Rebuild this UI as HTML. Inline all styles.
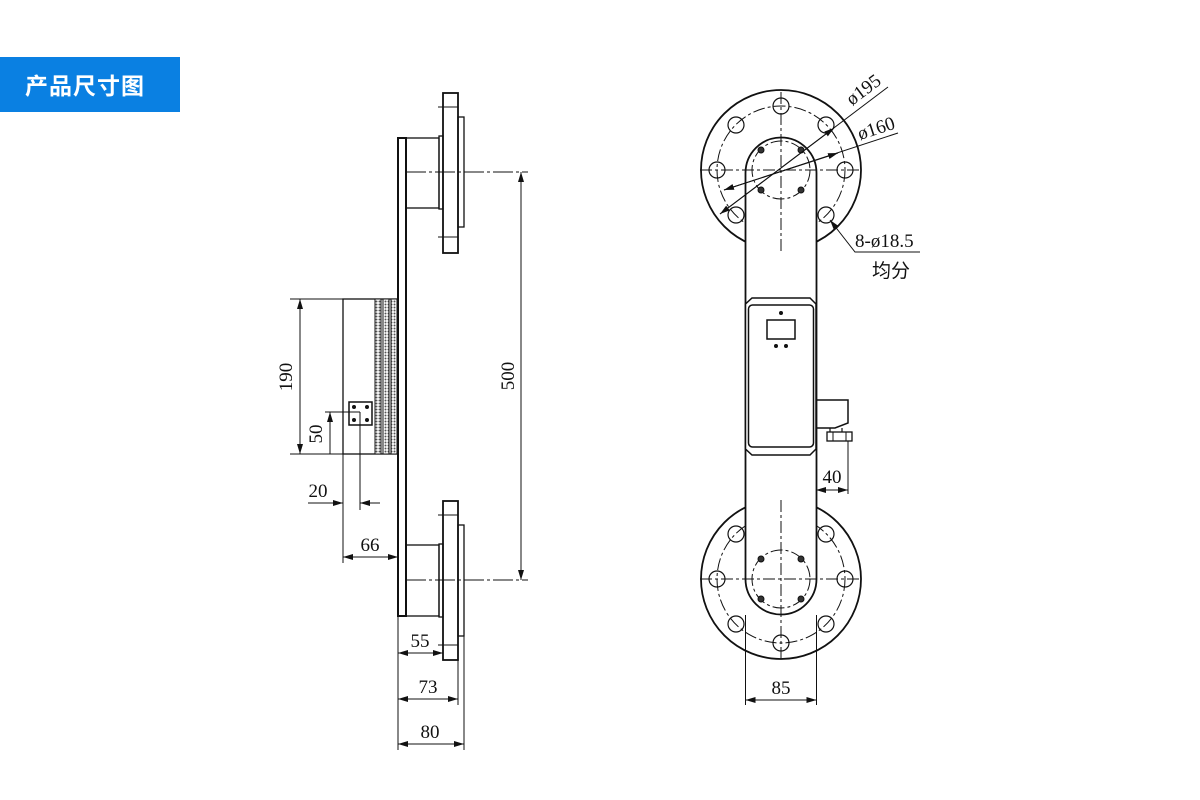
<!DOCTYPE html>
<html><head><meta charset="utf-8"><style>
body{margin:0;width:1200px;height:800px;background:#fff;overflow:hidden;position:relative}
.hd{position:absolute;left:0;top:57px;width:180px;height:55px;background:#0a80e2;color:#fff;font:bold 23px "Noto Sans CJK SC",sans-serif;line-height:55px;padding-left:25px;box-sizing:border-box;letter-spacing:1px}
svg{position:absolute;left:0;top:0}
text{font-family:"Liberation Serif","Noto Sans CJK SC",serif;font-size:19px;fill:#111}
</style></head><body>
<div class="hd">产品尺寸图</div>
<svg width="1200" height="800" viewBox="0 0 1200 800">
<defs>
<marker id="a" viewBox="0 0 10 6" refX="10" refY="3" markerWidth="10" markerHeight="6" orient="auto-start-reverse" markerUnits="userSpaceOnUse"><path d="M0,0L10,3L0,6z" fill="#111"/></marker>
<pattern id="h" width="3" height="3" patternUnits="userSpaceOnUse"><rect width="3" height="3" fill="#fff"/><circle cx="1.5" cy="1.5" r="1" fill="#555"/></pattern>
</defs>
<g fill="none" stroke="#111" stroke-width="1.3">
<!-- side view -->
<rect x="398" y="138" width="8" height="478" stroke-width="2"/>
<rect x="406" y="138" width="33" height="70"/>
<rect x="439" y="136" width="4" height="73"/>
<rect x="443" y="93" width="15" height="160" stroke-width="1.8"/>
<rect x="458" y="117" width="6" height="110"/>
<path d="M438 107H458M438 237H458" stroke-width="1"/>
<rect x="406" y="545" width="33" height="71"/>
<rect x="439" y="544" width="4" height="73"/>
<rect x="443" y="501" width="15" height="159" stroke-width="1.8"/>
<rect x="458" y="525" width="6" height="111"/>
<path d="M438 515H458M438 645H458" stroke-width="1"/>
<path d="M406 172H528M406 580H528" stroke-width="1" stroke-dasharray="20,3,3,3"/>
<rect x="343" y="299" width="55" height="155"/>
<rect x="375" y="299" width="6" height="155" fill="url(#h)" stroke-width="1"/>
<rect x="383" y="299" width="6" height="155" fill="url(#h)" stroke-width="1"/>
<rect x="391" y="299" width="6" height="155" fill="url(#h)" stroke-width="1"/>
<rect x="349" y="402" width="23" height="23" stroke-width="1.5"/>
<g fill="#111" stroke="none"><circle cx="354" cy="407" r="2"/><circle cx="367" cy="407" r="2"/><circle cx="354" cy="420" r="2"/><circle cx="367" cy="420" r="2"/></g>
<!-- dims side -->
<g stroke-width="1">
<path d="M290 299H343M290 454H343M325 412H360M360 412V510M343 454V563"/>
<path d="M300 299V454" marker-start="url(#a)" marker-end="url(#a)"/>
<path d="M330 412V454" marker-start="url(#a)"/>
<path d="M308 503H343" marker-end="url(#a)"/><path d="M380 503H360" marker-end="url(#a)"/>
<path d="M343 557H398" marker-start="url(#a)" marker-end="url(#a)"/>
<path d="M521 172V580" marker-start="url(#a)" marker-end="url(#a)"/>
<path d="M398 616V750M443 640V657M458 660V705M464 636V750"/>
<path d="M398 653H443" marker-start="url(#a)" marker-end="url(#a)"/>
<path d="M398 699H458" marker-start="url(#a)" marker-end="url(#a)"/>
<path d="M398 744H464" marker-start="url(#a)" marker-end="url(#a)"/>
</g>
<!-- front view -->
<circle cx="781" cy="170" r="80" stroke-width="1.8"/>
<circle cx="781" cy="579" r="80" stroke-width="1.8"/>
<g stroke-width="1" stroke-dasharray="12,3,3,3">
<circle cx="781" cy="170" r="64"/><circle cx="781" cy="579" r="64"/>
</g>
<g stroke-width="1.2">
<circle cx="781" cy="106" r="8"/><circle cx="781" cy="234" r="8"/><circle cx="717" cy="170" r="8"/><circle cx="845" cy="170" r="8"/>
<circle cx="736" cy="125" r="8"/><circle cx="826" cy="125" r="8"/><circle cx="736" cy="215" r="8"/><circle cx="826" cy="215" r="8"/>
<circle cx="781" cy="643" r="8"/><circle cx="717" cy="579" r="8"/><circle cx="845" cy="579" r="8"/>
<circle cx="736" cy="534" r="8"/><circle cx="826" cy="534" r="8"/><circle cx="736" cy="624" r="8"/><circle cx="826" cy="624" r="8"/>
</g>
<path d="M745.5 173A35.5 35.5 0 0 1 816.5 173V579A35.5 35.5 0 0 1 745.5 579Z" fill="#fff" stroke-width="1.8"/>
<g stroke-width="1" stroke-dasharray="12,3,3,3">
<circle cx="781" cy="170" r="29"/><circle cx="781" cy="579" r="29"/>
<path d="M700 170H862M781 92V252M700 579H862M781 500V660"/>
</g>
<g fill="#333" stroke="#111" stroke-width="1">
<circle cx="761" cy="150" r="3"/><circle cx="801" cy="150" r="3"/><circle cx="761" cy="190" r="3"/><circle cx="801" cy="190" r="3"/>
<circle cx="761" cy="559" r="3"/><circle cx="801" cy="559" r="3"/><circle cx="761" cy="599" r="3"/><circle cx="801" cy="599" r="3"/>
</g>
<path d="M752 298H810L816 304V449L810 455H752L745.5 449V304Z" fill="#fff" stroke-width="1.5"/>
<rect x="748.5" y="305" width="65" height="142" rx="4" stroke-width="1.5"/>
<rect x="767" y="320" width="28" height="19" stroke-width="1.5"/>
<g fill="#111" stroke="none"><circle cx="781" cy="313" r="2"/><circle cx="776" cy="346" r="2"/><circle cx="786" cy="346" r="2"/></g>
<path d="M816.5 400H848V423L835 428H816.5" stroke-width="1.5"/>
<path d="M830 428V432M842 428V432" stroke-width="1.2"/>
<rect x="827" y="432" width="25" height="9" stroke-width="1.3"/>
<path d="M833 432V441M846 432V441" stroke-width="1"/>
<!-- dims front -->
<g stroke-width="1">
<path d="M848 441V494"/>
<path d="M816 490H848" marker-start="url(#a)" marker-end="url(#a)"/>
<path d="M745.5 615V705M816.5 615V705"/>
<path d="M745.5 700H816.5" marker-start="url(#a)" marker-end="url(#a)"/>
<path d="M720 214L888 87" marker-start="url(#a)"/>
<path d="M720 214L834 128" marker-end="url(#a)"/>
<path d="M724 190L898 133" marker-start="url(#a)"/>
<path d="M724 190L838 153" marker-end="url(#a)"/>
<path d="M920 252H855L830 220" marker-end="url(#a)"/>
</g>
</g>
<text transform="translate(292,377) rotate(-90)" text-anchor="middle">190</text>
<text transform="translate(322,434) rotate(-90)" text-anchor="middle">50</text>
<text transform="translate(514,376) rotate(-90)" text-anchor="middle">500</text>
<text x="318" y="497" text-anchor="middle">20</text>
<text x="370" y="551" text-anchor="middle">66</text>
<text x="420" y="647" text-anchor="middle">55</text>
<text x="428" y="693" text-anchor="middle">73</text>
<text x="430" y="738" text-anchor="middle">80</text>
<text x="832" y="483" text-anchor="middle">40</text>
<text x="781" y="694" text-anchor="middle">85</text>
<text transform="translate(852,106) rotate(-37)">ø195</text>
<text transform="translate(860,140) rotate(-18)">ø160</text>
<text x="855" y="247">8-ø18.5</text>
<text x="872" y="277">均分</text>
</svg>
</body></html>
